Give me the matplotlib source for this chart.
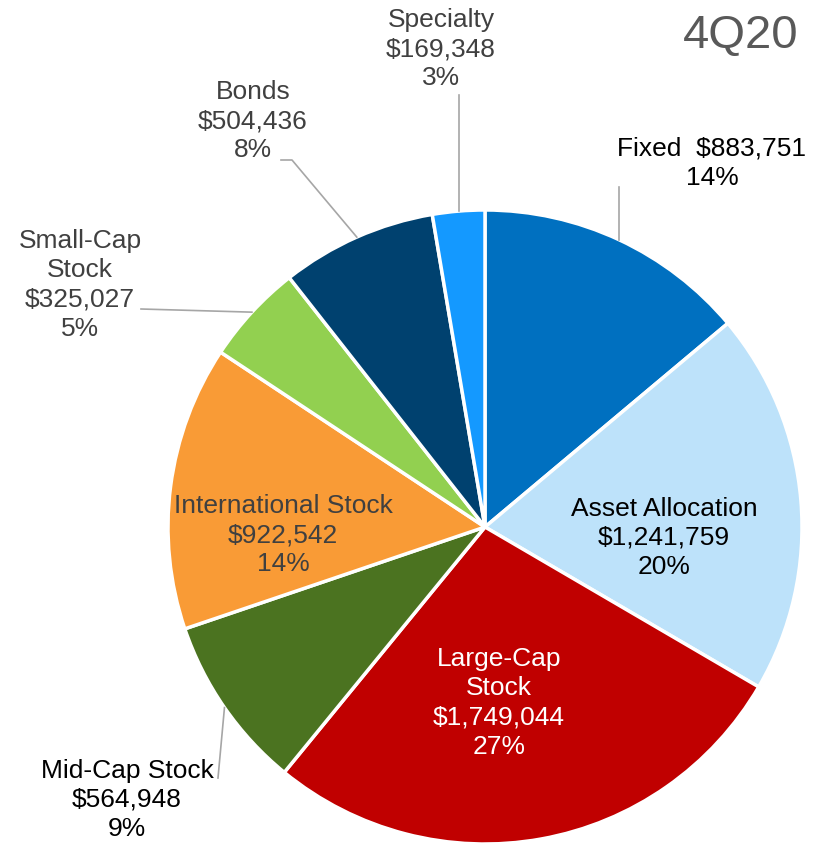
import numpy as np
import matplotlib
matplotlib.use("Agg")
import matplotlib.pyplot as plt

plt.rcParams['font.family'] = ['Liberation Sans', 'DejaVu Sans']

categories = ["Fixed", "Asset Allocation", "Large-Cap Stock", "Mid-Cap Stock",
              "International Stock", "Small-Cap Stock", "Bonds", "Specialty"]
values = [883751, 1241759, 1749044, 564948, 922542, 325027, 504436, 169348]
colors = ["#0070C0", "#BDE2FA", "#C00000", "#4B7320",
          "#F99B36", "#92D050", "#00416F", "#1499FF"]
label_texts = [
    "Fixed  $883,751\n14%",
    "Asset Allocation\n$1,241,759\n20%",
    "Large-Cap\nStock\n$1,749,044\n27%",
    "Mid-Cap Stock\n$564,948\n9%",
    "International Stock\n$922,542\n14%",
    "Small-Cap\nStock\n$325,027\n5%",
    "Bonds\n$504,436\n8%",
    "Specialty\n$169,348\n3%",
]
title = "4Q20"

W, H = 824, 844
fig = plt.figure(figsize=(W / 100, H / 100), dpi=100)
ax = fig.add_axes([0, 0, 1, 1])

def P(x, y):
    return (x, H - y)

cx, cy = P(485, 527)
R = 317
wedges, _ = ax.pie(values, colors=colors, startangle=90, counterclock=False,
                   center=(cx, cy), radius=R,
                   wedgeprops=dict(edgecolor="white", linewidth=2.5))
ax.set_xlim(0, W)
ax.set_ylim(0, H)
ax.set_aspect("equal")
ax.axis("off")

# label layout: (x, y pixel center, color)
layout = [
    (712, 163, "black"),
    (664, 538, "black"),
    (499, 703, "white"),
    (127, 800, "black"),
    (283, 535, "#404040"),
    (80, 285, "#404040"),
    (253, 121, "#404040"),
    (441, 49, "#404040"),
]

for txt, (lx, ly, col) in zip(label_texts, layout):
    ax.text(*P(lx, ly), txt, ha="center", va="center", fontsize=19,
            color=col, linespacing=1.27)

def edge_point(i):
    w = wedges[i]
    th = np.deg2rad((w.theta1 + w.theta2) / 2)
    return cx + R * np.cos(th), cy + R * np.sin(th)

lc = "#A6A6A6"
# Fixed
ex, ey = edge_point(0)
ax.plot([ex, ex], [ey, P(0, 187)[1]], color=lc, lw=1.2)
# Mid-Cap
ex, ey = edge_point(3)
ax.plot([ex, P(218, 0)[0]], [ey, P(0, 778)[1]], color=lc, lw=1.2)
# Small-Cap
ex, ey = edge_point(5)
ax.plot([P(141, 0)[0], ex], [P(0, 309)[1], ey], color=lc, lw=1.2)
# Bonds
ex, ey = edge_point(6)
ax.plot([P(281, 0)[0], P(292, 0)[0], ex], [P(0, 160)[1], P(0, 160)[1], ey], color=lc, lw=1.2)
# Specialty
ex, ey = edge_point(7)
ax.plot([ex, ex], [ey, P(0, 95)[1]], color=lc, lw=1.2)

ax.text(*P(741, 36), title, ha="center", va="center", fontsize=34, color="#595959")

fig.savefig("out.png", dpi=100)
